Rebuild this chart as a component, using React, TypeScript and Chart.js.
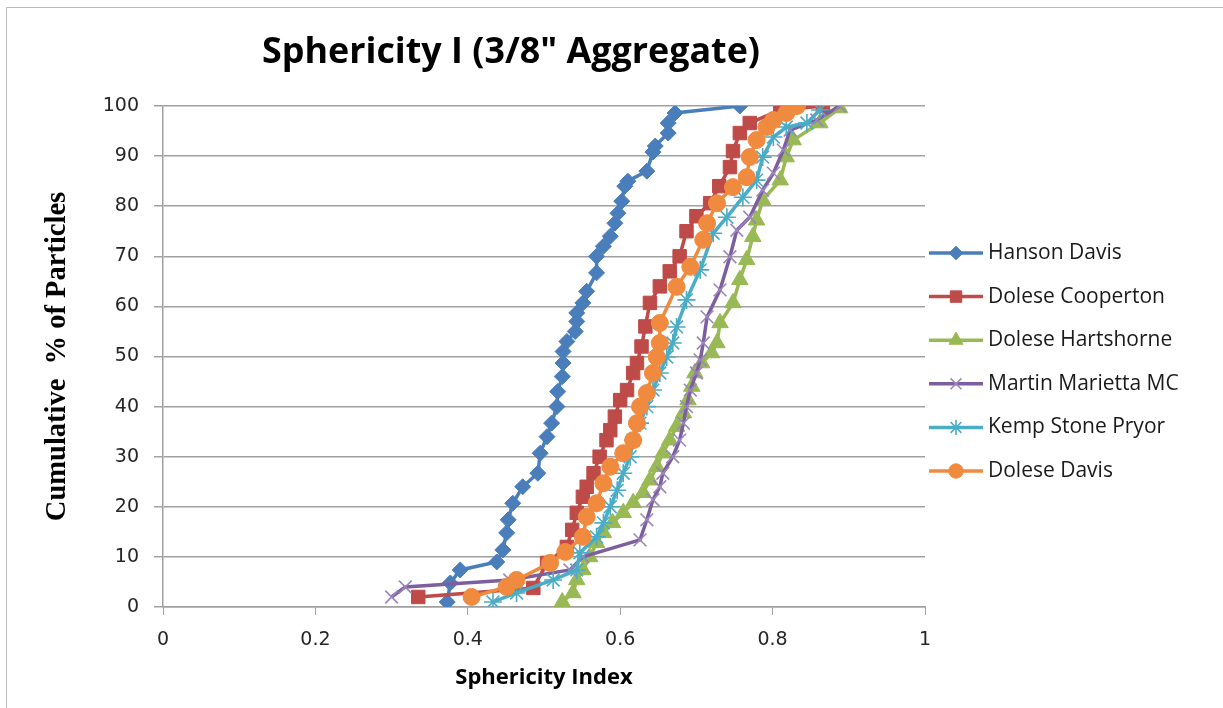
import React, { useEffect, useRef } from 'react';
import { Chart, registerables } from 'chart.js';
import { drawPoint } from 'chart.js/helpers';

Chart.register(...registerables);

const chartTitle = 'Sphericity I (3/8" Aggregate)';
const xAxisTitle = 'Sphericity Index';
const yAxisTitle = 'Cumulative  % of Particles';

const seriesNames = [
  'Hanson Davis',
  'Dolese Cooperton',
  'Dolese Hartshorne',
  'Martin Marietta MC',
  'Kemp Stone Pryor',
  'Dolese Davis',
];

const hansonX = [0.373, 0.377, 0.39, 0.438, 0.446, 0.451, 0.453, 0.459, 0.472, 0.492, 0.495, 0.504, 0.51, 0.517, 0.518, 0.524, 0.525, 0.525, 0.53, 0.541, 0.543, 0.543, 0.551, 0.556, 0.569, 0.569, 0.578, 0.587, 0.593, 0.597, 0.602, 0.606, 0.61, 0.635, 0.643, 0.646, 0.663, 0.663, 0.672, 0.757];
const hansonY = [1, 4.8, 7.4, 9, 11.4, 14.8, 17.4, 20.7, 24, 26.7, 30.7, 34, 36.7, 40, 43, 46, 48.7, 51, 53, 55, 57, 58.7, 60.7, 63, 66.7, 70, 72, 74, 76.6, 78.6, 81, 84, 85, 87, 90.8, 92, 94.6, 96.6, 98.6, 100];

const coopertonX = [0.335, 0.486, 0.504, 0.53, 0.537, 0.543, 0.551, 0.556, 0.565, 0.573, 0.582, 0.587, 0.593, 0.6, 0.609, 0.617, 0.622, 0.628, 0.633, 0.639, 0.652, 0.665, 0.678, 0.687, 0.7, 0.718, 0.73, 0.744, 0.748, 0.757, 0.77, 0.81, 0.866];
const coopertonY = [2, 3.8, 8.8, 12, 15.4, 18.8, 22, 24, 26.7, 30, 33.3, 35.3, 38, 41.3, 43.3, 46.7, 48.7, 52, 56, 60.7, 64, 67, 70, 75, 78, 80.6, 84, 87.8, 91, 94.6, 96.6, 99.2, 100];

const hartshorneX = [0.524, 0.538, 0.543, 0.551, 0.56, 0.569, 0.578, 0.59, 0.604, 0.617, 0.63, 0.639, 0.648, 0.656, 0.665, 0.674, 0.683, 0.689, 0.694, 0.698, 0.707, 0.72, 0.727, 0.731, 0.748, 0.757, 0.766, 0.774, 0.779, 0.787, 0.81, 0.818, 0.827, 0.862, 0.888];
const hartshorneY = [1, 2.8, 5.4, 7.4, 10, 12.8, 14.8, 16.8, 18.8, 20.8, 22.8, 25.3, 28, 30.7, 33.3, 36, 38.7, 41.3, 44, 46.7, 48.7, 50.7, 52.7, 56.7, 60.7, 65.3, 69.3, 73.9, 77.2, 81.2, 85.2, 89.8, 93.2, 96.6, 99.6];

const martinX = [0.3, 0.318, 0.455, 0.534, 0.551, 0.626, 0.635, 0.643, 0.652, 0.656, 0.669, 0.678, 0.683, 0.687, 0.692, 0.7, 0.705, 0.709, 0.714, 0.731, 0.744, 0.753, 0.77, 0.787, 0.801, 0.814, 0.823, 0.858, 0.888];
const martinY = [2, 4, 5.4, 7.4, 10, 13.4, 17.4, 21.4, 24, 26.7, 30, 33.3, 36.7, 40, 43.3, 46.7, 49.3, 52.7, 57.9, 63.3, 69.9, 75.2, 77.8, 83.2, 86.6, 91.2, 95.2, 97.2, 100];

const kempX = [0.433, 0.464, 0.512, 0.543, 0.547, 0.569, 0.578, 0.587, 0.596, 0.604, 0.613, 0.617, 0.626, 0.635, 0.643, 0.652, 0.661, 0.669, 0.674, 0.687, 0.705, 0.722, 0.74, 0.761, 0.779, 0.787, 0.801, 0.818, 0.845, 0.862];
const kempY = [1, 2.8, 5.4, 7.4, 10.8, 14, 16.8, 20, 23.3, 26.7, 30, 33.3, 36.7, 40, 43.3, 46.7, 49.9, 52.7, 55.9, 61.3, 67.3, 74.6, 77.8, 81.8, 85.2, 89.8, 93.8, 95.8, 96.6, 99.2];

const doleseDavisX = [0.405, 0.451, 0.464, 0.508, 0.528, 0.551, 0.556, 0.569, 0.578, 0.587, 0.604, 0.617, 0.622, 0.626, 0.635, 0.643, 0.648, 0.652, 0.652, 0.674, 0.692, 0.709, 0.714, 0.727, 0.748, 0.766, 0.77, 0.779, 0.792, 0.801, 0.818, 0.832];
const doleseDavisY = [2, 4, 5.4, 8.8, 11, 14, 18, 20.7, 24.7, 28, 30.7, 33.3, 36.7, 40, 42.7, 46.7, 49.9, 52.7, 56.7, 63.9, 67.9, 73.3, 76.6, 80.6, 83.8, 85.8, 89.8, 93.2, 95.8, 97.2, 98.6, 100];

const seriesX = [hansonX, coopertonX, hartshorneX, martinX, kempX, doleseDavisX];
const seriesY = [hansonY, coopertonY, hartshorneY, martinY, kempY, doleseDavisY];

const seriesColors = ['#4A7EBB', '#BE4B48', '#98B954', '#7D5FA0', '#4BACC6', '#F08A3E'];
const markerColors = ['#4A7EBB', '#BE4B48', '#98B954', '#9C86BC', '#4BACC6', '#F08A3E'];
const markerStyles = ['rectRot', 'rect', 'triangle', 'crossRot', 'star', 'circle'];
const markerRadius = [8, 9.5, 9.5, 9, 9, 8.5];
const markerBorder = [1, 1, 1, 1.6, 1.6, 1];

const xMin = 0;
const xMax = 1;
const xStep = 0.2;
const yMin = 0;
const yMax = 100;
const yStep = 10;

const framePlugin = {
  id: 'frame',
  beforeDraw(chart: any) {
    const ctx = chart.ctx;
    ctx.save();
    ctx.fillStyle = '#ffffff';
    ctx.fillRect(0, 0, chart.width, chart.height);
    ctx.strokeStyle = '#bcbcbc';
    ctx.lineWidth = 1;
    ctx.strokeRect(6.5, 7.5, chart.width + 20, chart.height + 20);
    ctx.restore();
  },
};

const titlePlugin = {
  id: 'customTitle',
  afterDraw(chart: any) {
    const ctx = chart.ctx;
    ctx.save();
    let size = 32;
    ctx.font = `bold ${size}px "Open Sans"`;
    const w = ctx.measureText(chartTitle).width;
    size = size * 498 / w;
    ctx.font = `bold ${size.toFixed(2)}px "Open Sans"`;
    ctx.fillStyle = '#000000';
    ctx.textAlign = 'center';
    ctx.textBaseline = 'alphabetic';
    ctx.fillText(chartTitle, 511, 63);
    ctx.restore();
  },
};

const legendPlugin = {
  id: 'customLegend',
  afterDraw(chart: any) {
    const ctx = chart.ctx;
    ctx.save();
    const y0 = 253;
    const dy = 43.6;
    seriesNames.forEach((name, i) => {
      const y = y0 + i * dy;
      ctx.strokeStyle = seriesColors[i];
      ctx.lineWidth = 3.5;
      ctx.lineCap = 'butt';
      ctx.beginPath();
      ctx.moveTo(929, y);
      ctx.lineTo(983, y);
      ctx.stroke();
      ctx.fillStyle = markerColors[i];
      ctx.strokeStyle = markerColors[i];
      ctx.lineWidth = markerBorder[i];
      drawPoint(ctx, { pointStyle: markerStyles[i], radius: markerRadius[i] * 0.85, rotation: 0, borderWidth: markerBorder[i] }, 956, y);
      ctx.fillStyle = '#1a1a1a';
      ctx.font = '21px "Open Sans"';
      ctx.textAlign = 'left';
      ctx.textBaseline = 'middle';
      ctx.fillText(name, 988, y);
    });
    ctx.restore();
  },
};

export default function App() {
  const canvasRef = useRef<HTMLCanvasElement | null>(null);

  useEffect(() => {
    const canvas = canvasRef.current;
    if (!canvas) return;
    const datasets = seriesNames.map((name, i) => ({
      label: name,
      data: seriesX[i].map((x, k) => ({ x, y: seriesY[i][k] })),
      showLine: true,
      borderColor: seriesColors[i],
      backgroundColor: markerColors[i],
      borderWidth: 3.5,
      tension: 0,
      pointStyle: markerStyles[i],
      pointRadius: markerRadius[i],
      pointBorderWidth: markerBorder[i],
      pointBackgroundColor: markerColors[i],
      pointBorderColor: markerColors[i],
      order: seriesNames.length - i,
    }));

    const chart = new Chart(canvas, {
      type: 'scatter',
      data: { datasets },
      options: {
        animation: false,
        responsive: false,
        devicePixelRatio: 1,
        layout: { padding: { top: 106, right: 298, bottom: 0, left: 0 } },
        plugins: {
          legend: { display: false },
          title: { display: false },
          tooltip: { enabled: false },
        },
        scales: {
          x: {
            type: 'linear',
            min: xMin,
            max: xMax,
            afterFit(scale: any) {
              scale.height = 101;
            },
            ticks: {
              stepSize: xStep,
              color: '#262626',
              font: { family: '"DejaVu Sans"', size: 19 },
              padding: 14,
              maxRotation: 0,
              callback: (v: any) => String(Number(Number(v).toFixed(1))),
            },
            grid: {
              drawOnChartArea: false,
              drawTicks: true,
              tickLength: 8,
              color: '#a0a0a0',
            },
            border: { display: true, color: '#a0a0a0', width: 1.5 },
            title: {
              display: true,
              text: xAxisTitle,
              color: '#000000',
              font: { family: '"Open Sans"', size: 22, weight: 'bold' },
              padding: { top: 0, bottom: 17 },
            },
          },
          y: {
            type: 'linear',
            min: yMin,
            max: yMax,
            afterFit(scale: any) {
              scale.width = 163;
            },
            ticks: {
              stepSize: yStep,
              color: '#262626',
              font: { family: '"DejaVu Sans"', size: 19 },
              padding: 15,
            },
            grid: {
              drawOnChartArea: true,
              drawTicks: true,
              tickLength: 9,
              color: '#a0a0a0',
              lineWidth: 1.5,
            },
            border: { display: true, color: '#a0a0a0', width: 1.5 },
            title: {
              display: true,
              text: yAxisTitle,
              color: '#000000',
              font: { family: '"Liberation Serif"', size: 28.5, weight: 'bold' },
              padding: { top: 41, bottom: 0 },
            },
          },
        },
      },
      plugins: [framePlugin, titlePlugin, legendPlugin],
    });

    return () => {
      chart.destroy();
    };
  }, []);

  return (
    <div style={{ position: 'fixed', left: 0, top: 0, width: 1223, height: 708, background: '#ffffff', overflow: 'hidden' }}>
      <canvas ref={canvasRef} width={1223} height={708} style={{ display: 'block', width: 1223, height: 708 }} />
    </div>
  );
}
